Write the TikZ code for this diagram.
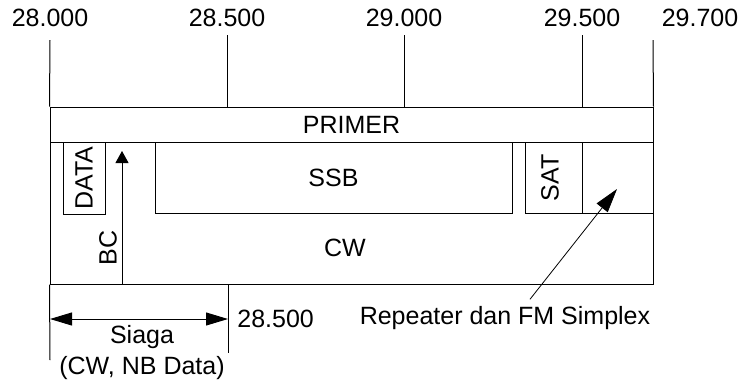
\documentclass[tikz,border=0pt]{standalone}
\usepackage{fontspec}
\setmainfont{Liberation Sans}
\usetikzlibrary{arrows.meta, positioning, fit}

\begin{document}
\begin{tikzpicture}[
			x=0.5pt, y=-0.5pt,
			font=\fontsize{12.5}{15}\selectfont,
			band/.style={draw, inner sep=0pt, line width=0.5pt},
			freq/.style={inner sep=1pt},
			tickline/.style={draw, line width=0.5pt},
			vlabel/.style={rotate=90, inner sep=1pt}
		]
		\useasboundingbox (0,0) rectangle (740,381);
		% Frequency labels
		\node[freq] (f280) at (50,18) {28.000};
		\node[freq] (f285) at (227,18) {28.500};
		\node[freq] (f290) at (404,18) {29.000};
		\node[freq] (f295) at (582,18) {29.500};
		\node[freq] (f297) at (700,18) {29.700};
		
		% Bands
		\node[band, fit={(50,107) (653,284)}] (cw) {};
		\node[band, fit={(50,107) (653,142)}] (primer) {};
		\node[band, fit={(63,142) (105,214)}] (data) {};
		\node[band, fit={(155,142) (512,213)}] (ssb) {};
		\node[band, fit={(525,142) (582,213)}] (sat) {};
		\node[band, fit={(582,142) (653,213)}] (rptbox) {};
		\node at (primer.center) (primerlbl) {PRIMER};
		\node at (ssb.center) (ssblbl) {SSB};
		\node at (345,248) (cwlbl) {CW};
		\node[vlabel] at (data.center) (datalbl) {DATA};
		\node[vlabel] at (550,178) (satlbl) {SAT};
		\node[vlabel] at (108,248) (bclbl) {BC};
		
		% Tick lines
		\draw[tickline] (50,40) -- (cw.north west);
		\draw[tickline] (227,35) -- (227,107);
		\draw[tickline] (404,35) -- (404,107);
		\draw[tickline] (582,35) -- (582,107);
		\draw[tickline] (653,40) -- (cw.north east);
		\coordinate (lowleft) at (50,360);
		\coordinate (lowmid) at (228,353);
		\draw[tickline] (cw.south west) -- (lowleft);
		\draw[tickline] (228,284) -- (lowmid);
		
		% BC arrow
		\coordinate (bcfoot) at (122,284);
		\coordinate (bctip) at (122,151);
		\draw[line width=0.5pt, -{Triangle[length=6pt, width=6.5pt]}] (bcfoot) -- (bctip);
		
		% Siaga
		\coordinate (sgl) at (50,319);
		\coordinate (sgr) at (228,319);
		\draw[line width=0.5pt, {Triangle[length=11pt, width=6.5pt]}-{Triangle[length=11pt, width=6.5pt]}] (sgl) -- (sgr);
		\node at (142,337) (siaga) {Siaga};
		\node at (142,368) (siagasub) {(CW, NB Data)};
		\node[freq, anchor=west] at (235,319) (f285b) {28.500};
		
		% Repeater
		\node at (505,318) (rpt) {Repeater dan FM Simplex};
		\coordinate (rpttip) at (617,189);
		\draw[line width=0.4pt, -{Triangle[length=12pt, width=7pt]}] ([xshift=12.5pt]rpt.north) -- (rpttip);
		\end{tikzpicture}
\end{document}
